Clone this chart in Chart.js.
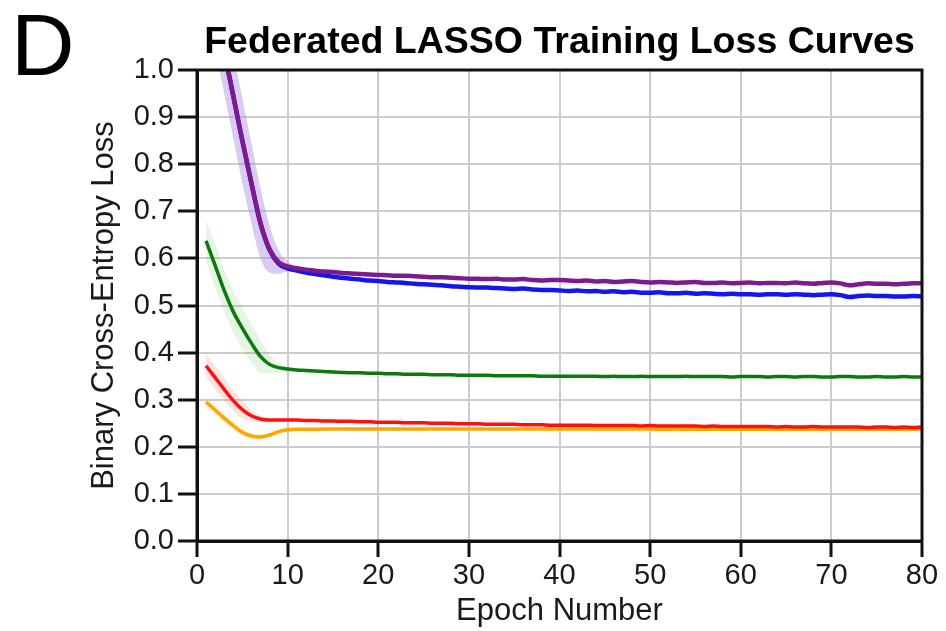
<!DOCTYPE html>
<html>
<head>
<meta charset="utf-8">
<script src="https://cdn.jsdelivr.net/npm/chart.js@4.4.1/dist/chart.umd.min.js"></script>
<style>
  html, body { margin: 0; padding: 0; background: #fff; }
</style>
</head>
<body>
<canvas id="myChart" width="946" height="631"></canvas>
<script>
var chartTitle = 'Federated LASSO Training Loss Curves';
var panelLetter = 'D';

var epochs = [1,2,3,4,5,6,7,8,9,10,11,12,13,14,15,16,17,18,19,20,
  21,22,23,24,25,26,27,28,29,30,31,32,33,34,35,36,37,38,39,40,
  41,42,43,44,45,46,47,48,49,50,51,52,53,54,55,56,57,58,59,60,
  61,62,63,64,65,66,67,68,69,70,71,72,73,74,75,76,77,78,79,80];

var purpleLoss = [1.23,1.135,1.04,0.945,0.85,0.76,0.675,0.62,0.592,0.583,
  0.579,0.576,0.574,0.572,0.571,0.569,0.568,0.567,0.566,0.565,
  0.564,0.563,0.563,0.562,0.561,0.560,0.560,0.559,0.558,0.557,
  0.557,0.556,0.557,0.555,0.555,0.556,0.554,0.553,0.554,0.554,
  0.553,0.552,0.553,0.551,0.552,0.550,0.551,0.552,0.550,0.549,
  0.550,0.549,0.548,0.549,0.550,0.548,0.548,0.549,0.547,0.548,
  0.549,0.547,0.548,0.548,0.547,0.549,0.547,0.546,0.548,0.549,
  0.547,0.543,0.545,0.547,0.546,0.546,0.545,0.546,0.547,0.547];

var blueLoss = [1.23,1.135,1.04,0.945,0.85,0.76,0.675,0.618,0.589,0.579,
  0.574,0.570,0.567,0.564,0.561,0.559,0.557,0.555,0.553,0.552,
  0.550,0.549,0.548,0.546,0.545,0.544,0.543,0.541,0.540,0.539,
  0.538,0.538,0.537,0.536,0.535,0.536,0.534,0.533,0.533,0.532,
  0.531,0.532,0.530,0.531,0.529,0.530,0.528,0.529,0.527,0.527,
  0.528,0.526,0.526,0.527,0.525,0.526,0.525,0.524,0.525,0.524,
  0.524,0.523,0.524,0.524,0.523,0.524,0.523,0.522,0.523,0.524,
  0.522,0.518,0.520,0.521,0.520,0.520,0.519,0.519,0.520,0.519];

var greenLoss = [0.637,0.585,0.532,0.487,0.452,0.42,0.392,0.375,0.368,0.365,
  0.363,0.362,0.361,0.360,0.359,0.358,0.357,0.357,0.356,0.356,
  0.355,0.355,0.354,0.354,0.354,0.353,0.353,0.353,0.352,0.352,
  0.352,0.352,0.351,0.351,0.351,0.351,0.351,0.350,0.350,0.350,
  0.350,0.350,0.350,0.350,0.349,0.350,0.349,0.349,0.350,0.349,
  0.349,0.349,0.349,0.350,0.349,0.349,0.349,0.349,0.348,0.349,
  0.349,0.349,0.348,0.349,0.349,0.348,0.349,0.349,0.348,0.348,
  0.349,0.349,0.348,0.348,0.349,0.348,0.348,0.349,0.348,0.348];

var redLoss = [0.372,0.347,0.322,0.298,0.279,0.266,0.259,0.257,0.257,0.257,
  0.257,0.256,0.256,0.255,0.255,0.254,0.254,0.253,0.253,0.252,
  0.252,0.252,0.251,0.251,0.251,0.250,0.250,0.250,0.249,0.249,
  0.249,0.248,0.248,0.248,0.248,0.247,0.247,0.247,0.246,0.246,
  0.246,0.246,0.246,0.245,0.245,0.245,0.245,0.245,0.244,0.245,
  0.244,0.244,0.244,0.244,0.244,0.243,0.244,0.243,0.243,0.243,
  0.243,0.243,0.243,0.242,0.243,0.242,0.242,0.243,0.242,0.242,
  0.242,0.242,0.242,0.241,0.242,0.242,0.241,0.242,0.241,0.242];

var orangeLoss = [0.295,0.278,0.261,0.245,0.231,0.223,0.221,0.225,0.232,0.236,
  0.237,0.237,0.237,0.238,0.238,0.238,0.238,0.238,0.238,0.238,
  0.238,0.238,0.238,0.238,0.238,0.238,0.238,0.238,0.238,0.238,
  0.238,0.238,0.238,0.238,0.238,0.238,0.238,0.238,0.238,0.238,
  0.238,0.238,0.238,0.238,0.238,0.238,0.238,0.238,0.238,0.238,
  0.237,0.237,0.238,0.237,0.237,0.237,0.237,0.237,0.237,0.237,
  0.237,0.237,0.237,0.237,0.237,0.237,0.237,0.237,0.237,0.237,
  0.237,0.237,0.237,0.237,0.237,0.237,0.237,0.237,0.237,0.237];

// spread (+/-) of the shaded band for the first epochs
var purpleSpread = [0.09,0.09,0.09,0.09,0.09,0.085,0.075,0.05,0.025,0.01,0.005,0.003];
var greenSpread = [0.045,0.045,0.045,0.045,0.045,0.04,0.035,0.02,0.01,0.005,0.003,0.002];
var redSpread = [0.025,0.025,0.024,0.022,0.018,0.012,0.007,0.004,0.003,0.002,0.002,0.002];
var orangeSpread = [0.01,0.01,0.01,0.009,0.008,0.006,0.005,0.004,0.003,0.002,0.002,0.002];

var xTicks = [0,10,20,30,40,50,60,70,80];
var yTicks = [0,0.1,0.2,0.3,0.4,0.5,0.6,0.7,0.8,0.9,1.0];

var FONT = '"Liberation Sans", Arial, Helvetica, sans-serif';

function pts(values) {
  return values.map(function(v, i) { return {x: epochs[i], y: v}; });
}

function band(values, spread, sign) {
  return spread.map(function(s, i) { return {x: epochs[i], y: values[i] + sign * s}; });
}

var datasets = [];

function addBand(values, spread, color) {
  datasets.push({ data: band(values, spread, 1), borderWidth: 0, pointRadius: 0, fill: false, order: 20, cubicInterpolationMode: 'monotone' });
  datasets.push({ data: band(values, spread, -1), borderWidth: 0, pointRadius: 0, fill: '-1', backgroundColor: color, order: 20, cubicInterpolationMode: 'monotone' });
}

function addLine(label, values, color, width, order) {
  datasets.push({ label: label, data: pts(values), borderColor: color, borderWidth: width, pointRadius: 0, fill: false, order: order, cubicInterpolationMode: 'monotone' });
}

addBand(purpleLoss, purpleSpread, 'rgba(170,140,225,0.45)');
addBand(greenLoss, greenSpread, 'rgba(60,170,60,0.13)');
addBand(redLoss, redSpread, 'rgba(255,60,60,0.15)');
addBand(orangeLoss, orangeSpread, 'rgba(255,170,0,0.15)');

addLine('orange', orangeLoss, '#ffa500', 3.5, 5);
addLine('red', redLoss, '#ff1010', 3.5, 4);
addLine('green', greenLoss, '#0a7a0a', 3.5, 3);
addLine('blue', blueLoss, '#1515f0', 4.5, 2);
addLine('purple', purpleLoss, '#7d1a8e', 4.5, 1);

var decorations = {
  id: 'decorations',
  afterDraw: function(chart) {
    var ctx = chart.ctx, a = chart.chartArea;
    ctx.save();
    ctx.strokeStyle = '#111';
    ctx.lineWidth = 3;
    ctx.strokeRect(a.left, a.top, a.right - a.left, a.bottom - a.top);
    ctx.fillStyle = '#000';
    ctx.textBaseline = 'alphabetic';
    ctx.textAlign = 'left';
    ctx.font = '88px ' + FONT;
    ctx.fillText(panelLetter, 11, 75);
    ctx.font = 'bold 37.5px ' + FONT;
    ctx.textAlign = 'center';
    ctx.fillText(chartTitle, (a.left + a.right) / 2, 53);
    ctx.restore();
  }
};

var ctx = document.getElementById('myChart').getContext('2d');
var chart = new Chart(ctx, {
  type: 'line',
  data: { datasets: datasets },
  plugins: [decorations],
  options: {
    responsive: false,
    animation: false,
    devicePixelRatio: 1,
    layout: { padding: { left: 0, right: 24, top: 70, bottom: 0 } },
    plugins: { legend: { display: false }, tooltip: { enabled: false } },
    scales: {
      x: {
        type: 'linear', min: 0, max: 80,
        afterBuildTicks: function(s) { s.ticks = xTicks.map(function(v) { return {value: v}; }); },
        afterFit: function(s) { s.height = 90; },
        ticks: { color: '#1a1a1a', font: { family: FONT, size: 29 }, padding: 2, maxRotation: 0, autoSkip: false },
        grid: { color: '#cccccc', lineWidth: 2, tickColor: '#111', tickWidth: 3, tickLength: 16 },
        border: { color: '#111', width: 3 },
        title: { display: true, text: 'Epoch Number', color: '#1a1a1a', font: { family: FONT, size: 31 }, padding: { top: 0, bottom: 1 } }
      },
      y: {
        min: 0, max: 1,
        afterBuildTicks: function(s) { s.ticks = yTicks.map(function(v) { return {value: v}; }); },
        afterFit: function(s) { s.width = 197; },
        ticks: { color: '#1a1a1a', font: { family: FONT, size: 29 }, padding: 4, autoSkip: false,
          callback: function(v) { return Number(v).toFixed(1); } },
        grid: { color: '#cccccc', lineWidth: 2, tickColor: '#111', tickWidth: 3, tickLength: 19 },
        border: { color: '#111', width: 3 },
        title: { display: true, text: 'Binary Cross-Entropy Loss', color: '#1a1a1a', font: { family: FONT, size: 31 }, padding: { top: 86, bottom: 0 } }
      }
    }
  }
});
</script>
</body>
</html>
